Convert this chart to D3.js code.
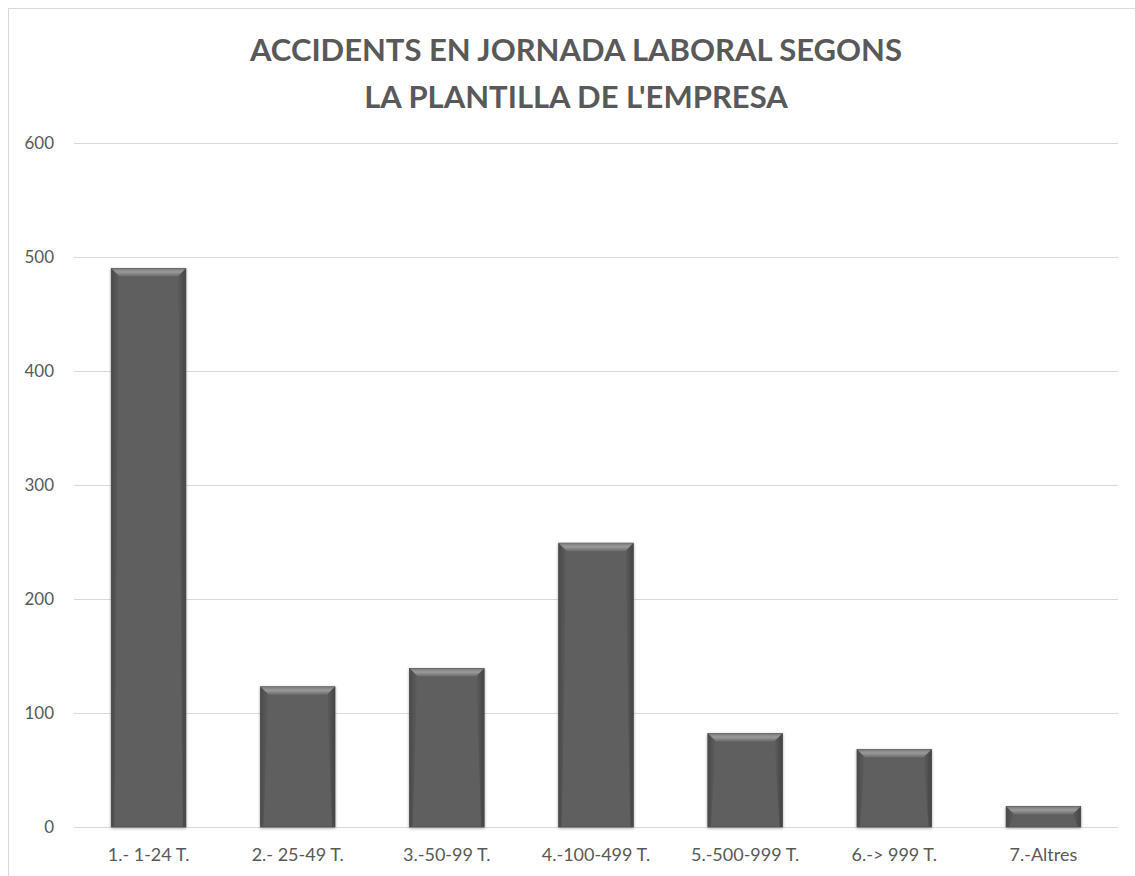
<!DOCTYPE html>
<html>
<head>
<meta charset="utf-8">
<script src="https://cdn.jsdelivr.net/npm/d3@7"></script>
<style>
  body { margin: 0; background: #fff; }
  text { font-family: Lato, "Open Sans", sans-serif; fill: #595959; }
</style>
</head>
<body>
<svg id="chart" width="1135" height="876"></svg>
<script>
'use strict';

var categories = ['1.- 1-24 T.', '2.- 25-49 T.', '3.-50-99 T.', '4.-100-499 T.', '5.-500-999 T.', '6.-> 999 T.', '7.-Altres'];
var values = [490, 123, 139, 249, 82, 68, 18];
var yTicks = [0, 100, 200, 300, 400, 500, 600];
var titleLines = ['ACCIDENTS EN JORNADA LABORAL SEGONS', "LA PLANTILLA DE L'EMPRESA"];

var svg = d3.select('#chart');

var plotLeft = 74, plotRight = 1118, plotTop = 143, plotBottom = 827;

// chart frame (right and bottom edges fall outside the picture)
svg.append('rect')
	.attr('x', 8.5).attr('y', 8.5)
	.attr('width', 1200).attr('height', 1000)
	.attr('fill', 'none')
	.attr('stroke', '#d9d9d9');

var scaleX = d3.scaleBand().domain(categories).range([plotLeft, plotRight]).paddingInner(0.5).paddingOuter(0.25);
var scaleY = d3.scaleLinear().domain([0, 600]).range([plotBottom, plotTop]);

// gridlines
svg.append('g')
	.selectAll('line')
	.data(yTicks).enter()
	.append('line')
	.attr('x1', plotLeft).attr('x2', plotRight)
	.attr('y1', function(d){ return Math.round(scaleY(d)) + 0.5; })
	.attr('y2', function(d){ return Math.round(scaleY(d)) + 0.5; })
	.attr('stroke', '#d9d9d9')
	.attr('stroke-width', 1);

// y labels
svg.append('g')
	.selectAll('text')
	.data(yTicks).enter()
	.append('text')
	.attr('x', 54)
	.attr('y', function(d){ return scaleY(d) + 6; })
	.attr('text-anchor', 'end')
	.style('font-size', '17px')
	.text(function(d){ return d; });

// x labels
svg.append('g')
	.selectAll('text')
	.data(categories).enter()
	.append('text')
	.attr('x', function(d){ return scaleX(d) + scaleX.bandwidth()/2; })
	.attr('y', 861)
	.attr('text-anchor', 'middle')
	.style('font-size', '18px')
	.text(function(d){ return d; });

// gradients for the bevelled bars
var defs = svg.append('defs');
var gTop = defs.append('linearGradient').attr('id', 'bevTop').attr('x1', 0).attr('y1', 0).attr('x2', 0).attr('y2', 1);
gTop.append('stop').attr('offset', '0%').attr('stop-color', '#7a7a7a');
gTop.append('stop').attr('offset', '45%').attr('stop-color', '#9a9a9a');
gTop.append('stop').attr('offset', '100%').attr('stop-color', '#6a6a6a');
var gL = defs.append('linearGradient').attr('id', 'bevL').attr('x1', 0).attr('y1', 0).attr('x2', 1).attr('y2', 0);
gL.append('stop').attr('offset', '0%').attr('stop-color', '#4a4a4a');
gL.append('stop').attr('offset', '100%').attr('stop-color', '#5e5e5e');
var gR = defs.append('linearGradient').attr('id', 'bevR').attr('x1', 0).attr('y1', 0).attr('x2', 1).attr('y2', 0);
gR.append('stop').attr('offset', '0%').attr('stop-color', '#5e5e5e');
gR.append('stop').attr('offset', '100%').attr('stop-color', '#444444');
var shadow = defs.append('filter').attr('id', 'shadow').attr('x', '-10%').attr('y', '-10%').attr('width', '120%').attr('height', '120%');
shadow.append('feGaussianBlur').attr('in', 'SourceAlpha').attr('stdDeviation', 1.5);
shadow.append('feOffset').attr('dx', 0).attr('dy', 1).attr('result', 'b');
shadow.append('feComponentTransfer').append('feFuncA').attr('type', 'linear').attr('slope', 0.35);
var merge = shadow.append('feMerge');
merge.append('feMergeNode');
merge.append('feMergeNode').attr('in', 'SourceGraphic');

var bev = 8;
var bars = svg.append('g')
	.selectAll('g')
	.data(values).enter()
	.append('g')
	.attr('filter', 'url(#shadow)');

bars.append('rect')
	.attr('x', function(d, i){ return scaleX(categories[i]); })
	.attr('y', function(d){ return scaleY(d); })
	.attr('width', scaleX.bandwidth())
	.attr('height', function(d){ return plotBottom - scaleY(d); })
	.attr('fill', '#5f5f5f')
	.attr('stroke', '#505050')
	.attr('stroke-width', 0.8);

// top bevel
bars.append('polygon')
	.attr('points', function(d, i){
		var x0 = scaleX(categories[i]), x1 = x0 + scaleX.bandwidth(), y0 = scaleY(d);
		var b = Math.min(bev, (plotBottom - y0) / 2);
		return [[x0, y0], [x1, y0], [x1 - b, y0 + b], [x0 + b, y0 + b]].join(' ');
	})
	.attr('fill', 'url(#bevTop)');

// side bevels
bars.append('polygon')
	.attr('points', function(d, i){
		var x0 = scaleX(categories[i]), y0 = scaleY(d);
		var b = Math.min(bev, (plotBottom - y0) / 2);
		return [[x0, y0], [x0 + b, y0 + b], [x0 + 3, plotBottom], [x0, plotBottom]].join(' ');
	})
	.attr('fill', 'url(#bevL)');
bars.append('polygon')
	.attr('points', function(d, i){
		var x1 = scaleX(categories[i]) + scaleX.bandwidth(), y0 = scaleY(d);
		var b = Math.min(bev, (plotBottom - y0) / 2);
		return [[x1, y0], [x1 - b, y0 + b], [x1 - 3, plotBottom], [x1, plotBottom]].join(' ');
	})
	.attr('fill', 'url(#bevR)');

// title
svg.append('g')
	.selectAll('text')
	.data(titleLines).enter()
	.append('text')
	.attr('x', 576)
	.attr('y', function(d, i){ return 61 + i * 47; })
	.attr('text-anchor', 'middle')
	.style('font-size', '31px')
	.style('font-weight', 'bold')
	.text(function(d){ return d; });
</script>
</body>
</html>
